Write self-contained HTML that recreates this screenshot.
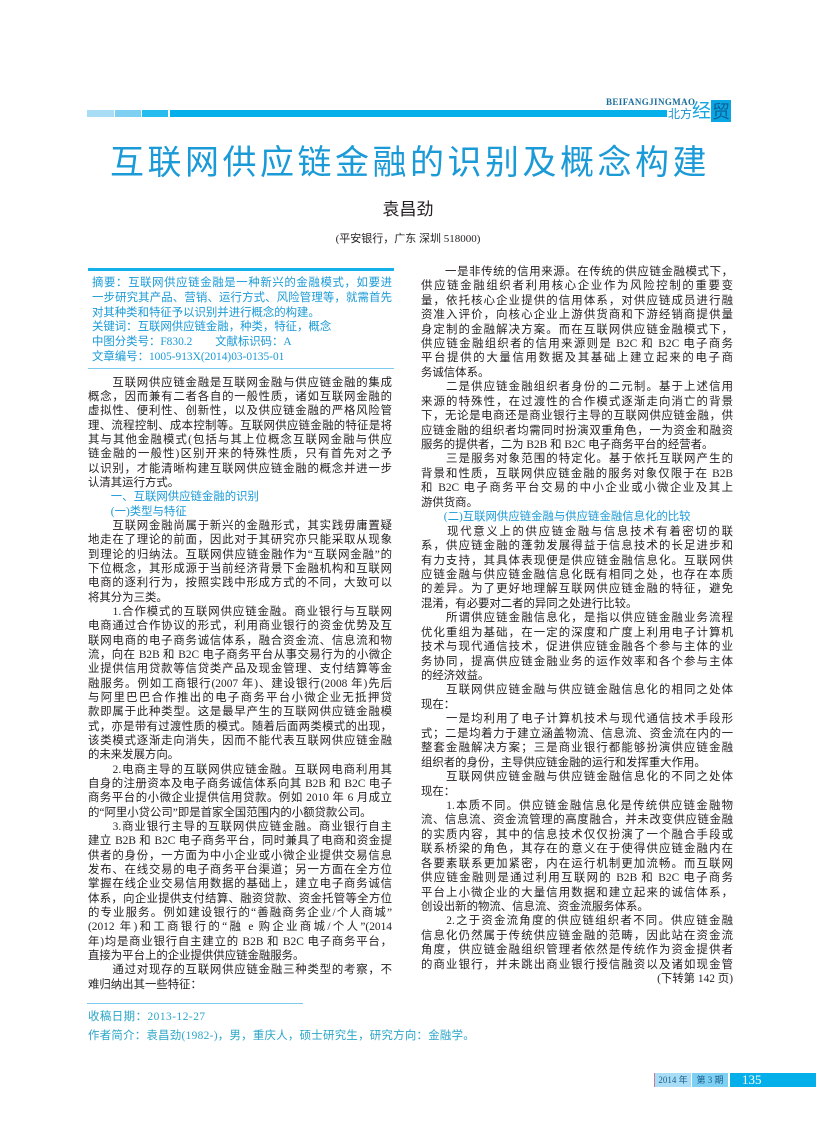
<!DOCTYPE html>
<html><head><meta charset="utf-8"><style>
body{margin:0;width:816px;height:1145px;background:#fff;position:relative;overflow:hidden;font-family:"Liberation Serif","Noto Sans CJK SC",sans-serif;color:#231f20}
.a{position:absolute}
.col div{height:var(--lh);line-height:var(--lh);font-size:11.4px;white-space:nowrap;text-align:justify;text-align-last:justify;overflow:hidden}
.col div.l{text-align-last:left}
.col div.b{color:#1a9ad6;text-align-last:left}
.col div.r{text-align-last:right}
.t{color:#1a9ad6}
</style></head><body>
<div class="a" style="left:87px;top:110px;width:27px;height:7px;background:#a9ddf5"></div>
<div class="a" style="left:115px;top:110px;width:26px;height:7px;background:#7dd0f2"></div>
<div class="a" style="left:142px;top:110px;width:26px;height:7px;background:#26bdee"></div>
<div class="a" style="left:170px;top:110px;width:497px;height:7px;background:#05b0ea"></div>
<div class="a" style="left:606px;top:97px;font:bold 9px 'Liberation Serif',serif;color:#1b6e9c;letter-spacing:0.4px">BEIFANGJINGMAO</div>
<div class="a" style="left:668px;top:107px;font-size:12px;color:#1a8fd0;font-family:'Noto Sans CJK SC',sans-serif;line-height:14px">北方</div>
<div class="a" style="left:692px;top:99px;font-size:19px;color:#19a6e0;font-family:'Noto Sans CJK SC',sans-serif;line-height:22px">经</div>
<div class="a" style="left:711px;top:100px;width:20px;height:22px;background:#0aa6e4;color:#0a5f95;font-size:18px;font-family:'Noto Sans CJK SC',sans-serif;line-height:22px;text-align:center">贸</div>

<div class="a" style="left:60px;top:138px;width:700px;text-align:center;font-size:34px;letter-spacing:3.5px;color:#1a9ad6;font-family:'Noto Sans CJK SC',sans-serif;line-height:44px">互联网供应链金融的识别及概念构建</div>
<div class="a" style="left:300px;top:196px;width:216px;text-align:center;font-size:17px;font-family:'Noto Sans CJK SC',sans-serif;line-height:24px">袁昌劲</div>
<div class="a" style="left:250px;top:231px;width:316px;text-align:center;font-size:11px;line-height:16px">(平安银行，广东 深圳 518000)</div>

<div class="a" style="left:88px;top:268px;width:306px;height:3px;background:#13b0ea"></div>
<div class="a col t" style="--lh:14.8px;left:92px;top:276px;width:300px">
<div>摘要：互联网供应链金融是一种新兴的金融模式，如要进</div>
<div>一步研究其产品、营销、运行方式、风险管理等，就需首先</div>
<div class="l">对其种类和特征予以识别并进行概念的构建。</div>
<div class="l">关键词：互联网供应链金融，种类，特征，概念</div>
<div class="l">中图分类号：F830.2　　文献标识码：A</div>
<div class="l">文章编号：1005-913X(2014)03-0135-01</div>
</div>
<div class="a" style="left:88px;top:368px;width:306px;height:1px;background:#7ccbee"></div>

<div class="a col" style="--lh:14.33px;left:88px;top:375.8px;width:304px">
<div>　　互联网供应链金融是互联网金融与供应链金融的集成</div>
<div>概念，因而兼有二者各自的一般性质，诸如互联网金融的</div>
<div>虚拟性、便利性、创新性，以及供应链金融的严格风险管</div>
<div>理、流程控制、成本控制等。互联网供应链金融的特征是将</div>
<div>其与其他金融模式(包括与其上位概念互联网金融与供应</div>
<div>链金融的一般性)区别开来的特殊性质，只有首先对之予</div>
<div>以识别，才能清晰构建互联网供应链金融的概念并进一步</div>
<div class="l">认清其运行方式。</div>
<div class="b">　　一、互联网供应链金融的识别</div>
<div class="b">　　(一)类型与特征</div>
<div>　　互联网金融尚属于新兴的金融形式，其实践毋庸置疑</div>
<div>地走在了理论的前面，因此对于其研究亦只能采取从现象</div>
<div>到理论的归纳法。互联网供应链金融作为“互联网金融”的</div>
<div>下位概念，其形成源于当前经济背景下金融机构和互联网</div>
<div>电商的逐利行为，按照实践中形成方式的不同，大致可以</div>
<div class="l">将其分为三类。</div>
<div>　　1.合作模式的互联网供应链金融。商业银行与互联网</div>
<div>电商通过合作协议的形式，利用商业银行的资金优势及互</div>
<div>联网电商的电子商务诚信体系，融合资金流、信息流和物</div>
<div>流，向在 B2B 和 B2C 电子商务平台从事交易行为的小微企</div>
<div>业提供信用贷款等信贷类产品及现金管理、支付结算等金</div>
<div>融服务。例如工商银行(2007 年)、建设银行(2008 年)先后</div>
<div>与阿里巴巴合作推出的电子商务平台小微企业无抵押贷</div>
<div>款即属于此种类型。这是最早产生的互联网供应链金融模</div>
<div>式，亦是带有过渡性质的模式。随着后面两类模式的出现，</div>
<div>该类模式逐渐走向消失，因而不能代表互联网供应链金融</div>
<div class="l">的未来发展方向。</div>
<div>　　2.电商主导的互联网供应链金融。互联网电商利用其</div>
<div>自身的注册资本及电子商务诚信体系向其 B2B 和 B2C 电子</div>
<div>商务平台的小微企业提供信用贷款。例如 2010 年 6 月成立</div>
<div class="l">的“阿里小贷公司”即是首家全国范围内的小额贷款公司。</div>
<div>　　3.商业银行主导的互联网供应链金融。商业银行自主</div>
<div>建立 B2B 和 B2C 电子商务平台，同时兼具了电商和资金提</div>
<div>供者的身份，一方面为中小企业或小微企业提供交易信息</div>
<div>发布、在线交易的电子商务平台渠道；另一方面在全方位</div>
<div>掌握在线企业交易信用数据的基础上，建立电子商务诚信</div>
<div>体系，向企业提供支付结算、融资贷款、资金托管等全方位</div>
<div>的专业服务。例如建设银行的“善融商务企业/个人商城”</div>
<div>(2012 年)和工商银行的“融 e 购企业商城/个人”(2014</div>
<div>年)均是商业银行自主建立的 B2B 和 B2C 电子商务平台，</div>
<div class="l">直接为平台上的企业提供供应链金融服务。</div>
<div>　　通过对现存的互联网供应链金融三种类型的考察，不</div>
<div class="l">难归纳出其一些特征：</div>
</div>

<div class="a col" style="--lh:14.45px;left:421px;top:264.8px;width:312px">
<div>　　一是非传统的信用来源。在传统的供应链金融模式下，</div>
<div>供应链金融组织者利用核心企业作为风险控制的重要变</div>
<div>量，依托核心企业提供的信用体系，对供应链成员进行融</div>
<div>资准入评价，向核心企业上游供货商和下游经销商提供量</div>
<div>身定制的金融解决方案。而在互联网供应链金融模式下，</div>
<div>供应链金融组织者的信用来源则是 B2C 和 B2C 电子商务</div>
<div>平台提供的大量信用数据及其基础上建立起来的电子商</div>
<div class="l">务诚信体系。</div>
<div>　　二是供应链金融组织者身份的二元制。基于上述信用</div>
<div>来源的特殊性，在过渡性的合作模式逐渐走向消亡的背景</div>
<div>下，无论是电商还是商业银行主导的互联网供应链金融，供</div>
<div>应链金融的组织者均需同时扮演双重角色，一为资金和融资</div>
<div class="l">服务的提供者，二为 B2B 和 B2C 电子商务平台的经营者。</div>
<div>　　三是服务对象范围的特定化。基于依托互联网产生的</div>
<div>背景和性质，互联网供应链金融的服务对象仅限于在 B2B</div>
<div>和 B2C 电子商务平台交易的中小企业或小微企业及其上</div>
<div class="l">游供货商。</div>
<div class="b">　　(二)互联网供应链金融与供应链金融信息化的比较</div>
<div>　　现代意义上的供应链金融与信息技术有着密切的联</div>
<div>系，供应链金融的蓬勃发展得益于信息技术的长足进步和</div>
<div>有力支持，其具体表现便是供应链金融信息化。互联网供</div>
<div>应链金融与供应链金融信息化既有相同之处，也存在本质</div>
<div>的差异。为了更好地理解互联网供应链金融的特征，避免</div>
<div class="l">混淆，有必要对二者的异同之处进行比较。</div>
<div>　　所谓供应链金融信息化，是指以供应链金融业务流程</div>
<div>优化重组为基础，在一定的深度和广度上利用电子计算机</div>
<div>技术与现代通信技术，促进供应链金融各个参与主体的业</div>
<div>务协同，提高供应链金融业务的运作效率和各个参与主体</div>
<div class="l">的经济效益。</div>
<div>　　互联网供应链金融与供应链金融信息化的相同之处体</div>
<div class="l">现在：</div>
<div>　　一是均利用了电子计算机技术与现代通信技术手段形</div>
<div>式；二是均着力于建立涵盖物流、信息流、资金流在内的一</div>
<div>整套金融解决方案；三是商业银行都能够扮演供应链金融</div>
<div class="l">组织者的身份，主导供应链金融的运行和发挥重大作用。</div>
<div>　　互联网供应链金融与供应链金融信息化的不同之处体</div>
<div class="l">现在：</div>
<div>　　1.本质不同。供应链金融信息化是传统供应链金融物</div>
<div>流、信息流、资金流管理的高度融合，并未改变供应链金融</div>
<div>的实质内容，其中的信息技术仅仅扮演了一个融合手段或</div>
<div>联系桥梁的角色，其存在的意义在于使得供应链金融内在</div>
<div>各要素联系更加紧密，内在运行机制更加流畅。而互联网</div>
<div>供应链金融则是通过利用互联网的 B2B 和 B2C 电子商务</div>
<div>平台上小微企业的大量信用数据和建立起来的诚信体系，</div>
<div class="l">创设出新的物流、信息流、资金流服务体系。</div>
<div>　　2.之于资金流角度的供应链组织者不同。供应链金融</div>
<div>信息化仍然属于传统供应链金融的范畴，因此站在资金流</div>
<div>角度，供应链金融组织管理者依然是传统作为资金提供者</div>
<div>的商业银行，并未跳出商业银行授信融资以及诸如现金管</div>
<div class="r">(下转第 142 页)</div>
</div>

<div class="a" style="left:87px;top:1003px;width:216px;height:1px;background:#7ccbee"></div>
<div class="a" style="left:88px;top:1009px;font-size:11.4px;line-height:16px;color:#2aa6c8;letter-spacing:0.5px">收稿日期：2013-12-27</div>
<div class="a" style="left:88px;top:1028px;font-size:11.4px;line-height:16px;color:#2aa6c8;letter-spacing:0.3px">作者简介：袁昌劲(1982-)，男，重庆人，硕士研究生，研究方向：金融学。</div>

<div class="a" style="left:654px;top:1073px;width:1px;height:14px;background:#c87aa0"></div>
<div class="a" style="left:655px;top:1073px;width:36px;height:14px;background:#a9ddf5;font-size:9px;line-height:14px;text-align:center;color:#1b5e8c">2014 年</div>
<div class="a" style="left:692px;top:1073px;width:36px;height:14px;background:#7dd0f2;font-size:9px;line-height:14px;text-align:center;color:#1b5e8c">第 3 期</div>
<div class="a" style="left:730px;top:1073px;width:86px;height:14px;background:#05b0ea;font-size:13px;line-height:14px;color:#fff;padding-left:12px;box-sizing:border-box">135</div>
</body></html>
